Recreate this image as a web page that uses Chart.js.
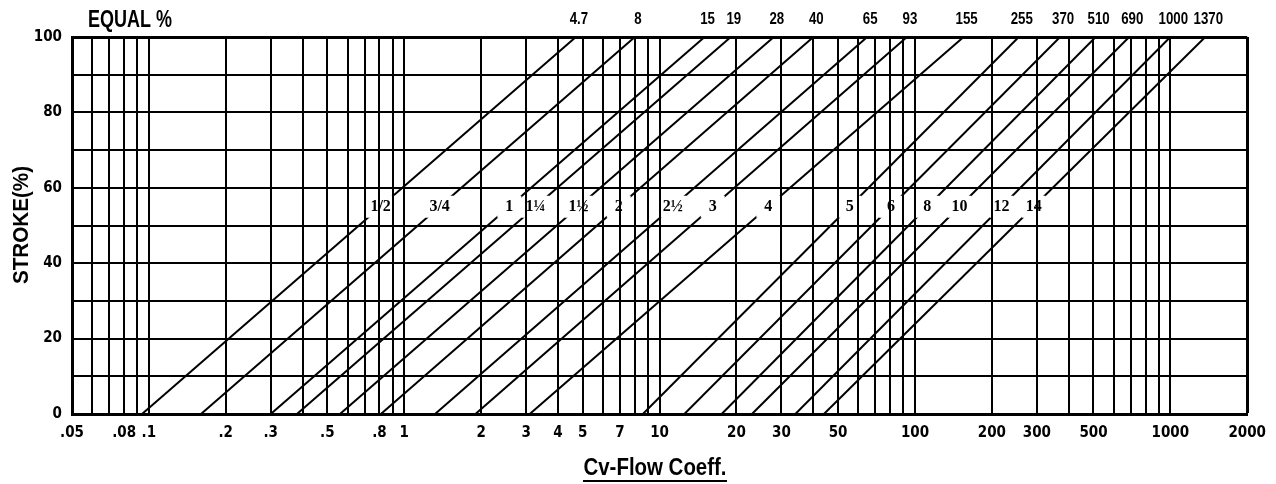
<!DOCTYPE html>
<html>
<head>
<meta charset="utf-8">
<script src="https://cdn.jsdelivr.net/npm/chart.js@4/dist/chart.umd.min.js"></script>
<style>
  body { margin: 0; background: #fff; }
  #wrap { width: 1276px; height: 484px; }
</style>
</head>
<body>
<div id="wrap"><canvas id="grafico" width="1276" height="484"></canvas></div>
<script>
// valve sizes (inches) and Cv at 0% and 100% stroke
const sizeLabels = ['1/2', '3/4', '1', '1¼', '1½', '2', '2½', '3', '4', '5', '6', '8', '10', '12', '14'];
const cvMax = [4.7, 8, 15, 19, 28, 40, 65, 93, 155, 255, 370, 510, 690, 1000, 1370];
const cvMin = [0.094, 0.16, 0.3, 0.38, 0.56, 0.81, 1.32, 1.9, 3.1, 8.6, 12.5, 17.5, 23, 34, 44];
const strokeStart = 0;
const strokeEnd = 100;

// axis ticks
const xTickValues = [0.05, 0.06, 0.07, 0.08, 0.09, 0.1, 0.2, 0.3, 0.4, 0.5, 0.6, 0.7, 0.8, 0.9,
  1, 2, 3, 4, 5, 6, 7, 8, 9, 10, 20, 30, 40, 50, 60, 70, 80, 90,
  100, 200, 300, 400, 500, 600, 700, 800, 900, 1000, 2000];
const xLabelValues = [0.05, 0.08, 0.1, 0.2, 0.3, 0.5, 0.8, 1, 2, 3, 4, 5, 7, 10, 20, 30, 50, 100, 200, 300, 500, 1000, 2000];
const xLabelText = ['.05', '.08', '.1', '.2', '.3', '.5', '.8', '1', '2', '3', '4', '5', '7', '10', '20', '30', '50', '100', '200', '300', '500', '1000', '2000'];
const yLabelValues = [0, 20, 40, 60, 80, 100];

const fonteNum = '"DejaVu Sans Condensed", "Liberation Sans Narrow", "Liberation Sans", sans-serif';
const fonteTit = '"Liberation Sans", sans-serif';
const fonteSerif = '"Liberation Serif", "DejaVu Serif", serif';
const labelPos = 55; // stroke % where the size label sits

function gapRect(chart, i) {
  const xs = chart.scales.x, ys = chart.scales.y;
  const x0 = xs.getPixelForValue(cvMin[i]), x1 = xs.getPixelForValue(cvMax[i]);
  const lx = x0 + (labelPos / 100) * (x1 - x0);
  const ly = ys.getPixelForValue(labelPos);
  chart.ctx.font = 'bold 16px ' + fonteSerif;
  const w = Math.max(chart.ctx.measureText(sizeLabels[i]).width + 8, 24);
  return { lx: lx, ly: ly, x: lx - w / 2, y: ly - 11, w: w, h: 22 };
}

// texto comprimido na horizontal ate a largura pedida
function textoLargura(ctx, txt, x, y, largura) {
  const w = ctx.measureText(txt).width;
  ctx.save();
  ctx.translate(x, y);
  ctx.scale(largura / w, 1);
  ctx.fillText(txt, 0, 0);
  ctx.restore();
}

const textos = {
  id: 'textos',
  beforeDatasetDraw(chart, args) {
    const r = gapRect(chart, args.index);
    const ctx = chart.ctx;
    ctx.save();
    ctx.beginPath();
    ctx.rect(0, 0, chart.width, chart.height);
    ctx.rect(r.x, r.y, r.w, r.h);
    ctx.clip('evenodd');
  },
  afterDatasetDraw(chart) {
    chart.ctx.restore();
  },
  afterDraw(chart) {
    const ctx = chart.ctx;
    const xs = chart.scales.x;
    ctx.save();
    ctx.fillStyle = '#000';
    ctx.textAlign = 'center';
    ctx.textBaseline = 'middle';

    // size labels in the gaps
    sizeLabels.forEach((s, i) => {
      const r = gapRect(chart, i);
      ctx.font = 'bold 16px ' + fonteSerif;
      ctx.fillText(s, r.lx, r.ly);
    });

    // Cv max values above the chart
    ctx.font = 'bold 17px ' + fonteTit;
    cvMax.forEach(v => {
      const t = String(v);
      textoLargura(ctx, t, xs.getPixelForValue(v) + 3, 19, ctx.measureText(t).width * 0.78);
    });

    // titles
    ctx.font = 'bold 23px ' + fonteTit;
    ctx.textAlign = 'left';
    textoLargura(ctx, 'EQUAL %', 88, 21, 84);

    ctx.textAlign = 'center';
    textoLargura(ctx, 'Cv-Flow Coeff.', 655, 469, 143);
    ctx.fillRect(655 - 72, 480, 144, 2);

    ctx.font = 'bold 22px ' + fonteTit;
    ctx.translate(22, 225);
    ctx.rotate(-Math.PI / 2);
    textoLargura(ctx, 'STROKE(%)', 0, 0, 118);
    ctx.restore();
  }
};

const datasets = sizeLabels.map((s, i) => ({
  label: s,
  data: [{ x: cvMin[i], y: strokeStart }, { x: cvMax[i], y: strokeEnd }],
  showLine: true,
  borderColor: '#000',
  borderWidth: 2,
  pointRadius: 0,
  fill: false
}));

new Chart(document.getElementById('grafico').getContext('2d'), {
  type: 'scatter',
  data: { datasets: datasets },
  options: {
    responsive: false,
    animation: false,
    events: [],
    layout: { padding: { top: 37, right: 25, left: 0, bottom: 0 } },
    plugins: { legend: { display: false }, tooltip: { enabled: false } },
    scales: {
      x: {
        type: 'logarithmic',
        min: 0.05,
        max: 2000,
        afterBuildTicks: axis => { axis.ticks = xTickValues.map(v => ({ value: v })); },
        afterFit: axis => { axis.height = 70; },
        grid: {
          color: '#000',
          lineWidth: c => (c.tick && c.tick.value === 2000 ? 3 : 2),
          drawTicks: false
        },
        border: { display: true, color: '#000', width: 3 },
        ticks: {
          autoSkip: false,
          maxRotation: 0,
          padding: 10,
          color: '#000',
          font: { family: fonteNum, size: 15, weight: 'bold' },
          callback: value => {
            const i = xLabelValues.findIndex(v => Math.abs(v - value) / v < 1e-6);
            return i >= 0 ? xLabelText[i] : '';
          }
        }
      },
      y: {
        min: 0,
        max: 100,
        afterFit: axis => { axis.width = 72; },
        grid: {
          color: '#000',
          lineWidth: c => (c.tick && c.tick.value === 100 ? 3 : 2),
          drawTicks: false
        },
        border: { display: true, color: '#000', width: 3 },
        ticks: {
          stepSize: 10,
          padding: 10,
          color: '#000',
          font: { family: fonteNum, size: 15, weight: 'bold' },
          callback: v => (yLabelValues.includes(v) ? v : '')
        }
      }
    }
  },
  plugins: [textos]
});
</script>
</body>
</html>
